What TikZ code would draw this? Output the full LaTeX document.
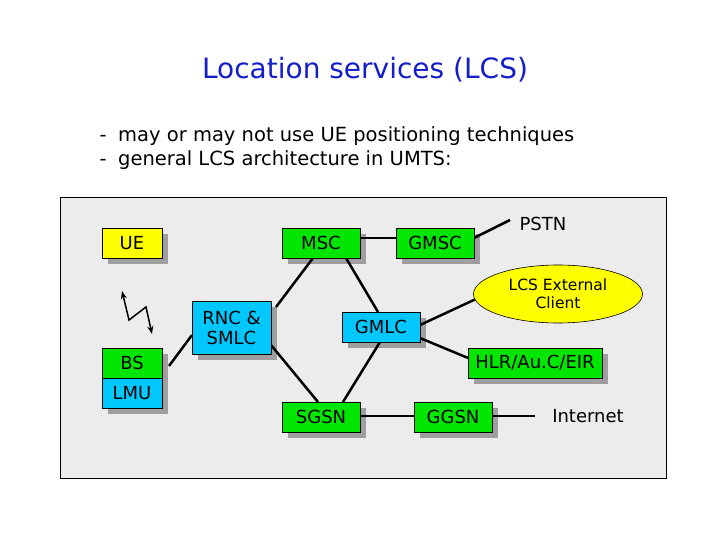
\documentclass[tikz,border=0pt]{standalone}
\usepackage{fontspec}
\setmainfont{DejaVu Sans}
\usetikzlibrary{shapes.geometric,arrows.meta}
\definecolor{bgray}{RGB}{236,236,236}
\definecolor{gbox}{RGB}{0,230,0}
\definecolor{cbox}{RGB}{0,200,255}
\definecolor{ybox}{RGB}{255,255,0}
\definecolor{ttl}{RGB}{20,30,200}
\begin{document}
\begin{tikzpicture}[x=1pt,y=-1pt,
  box/.style={draw=black,line width=0.6pt,minimum height=30pt,inner sep=1pt,font=\fontsize{18}{20}\selectfont,align=center},
  con/.style={line width=2.5pt}]
\useasboundingbox (0,0) rectangle (720,540);
\node[font=\fontsize{28}{32}\selectfont,text=ttl] (title) at (365,70) {Location services (LCS)};
\node[anchor=west,font=\fontsize{19.5}{22}\selectfont] (b1) at (96,136) {-\; may or may not use UE positioning techniques};
\node[anchor=west,font=\fontsize{19.5}{22}\selectfont] (b2) at (96,160) {-\; general LCS architecture in UMTS:};
\draw[fill=bgray,line width=0.6pt] (60,197) rectangle (666,478);
% shadows
\foreach \a/\b/\c/\d in {102/228/162/258, 282/228/360/258, 192/301/271/354, 102/348/162/408, 282/402/360/432, 342/312/420/342, 396/228/474/258, 468/348/602/378, 414/402/492/432}
  \fill[gray!75] (\a+6,\b+6) rectangle (\c+6,\d+6);
% connectors
\coordinate (pstn) at (510,220);
\coordinate (inet) at (535,416);
\draw[con] (169,366) -- (192,335);
\draw[con] (313,258) -- (276,307);
\draw[con] (346,258) -- (378,312);
\draw[con] (271,345) -- (318,402);
\draw[con] (380,342) -- (343,402);
\draw[con] (360,238) -- (396,238);
\draw[con] (420,325) -- (476,299);
\draw[con] (420,338) -- (468,358);
\draw[con] (360,416) -- (414,416);
\draw[con] (474,238) -- (pstn);
\draw[con] (492,416) -- (inet);
% boxes
\node[box,fill=ybox,minimum width=60pt] (ue) at (132,243) {UE};
\node[box,fill=gbox,minimum width=78pt] (msc) at (321,243) {MSC};
\node[box,fill=cbox,minimum width=79pt,minimum height=53pt] (rnc) at (231.5,327.5) {RNC \&\\SMLC};
\node[box,fill=gbox,minimum width=60pt] (bs) at (132,363) {BS};
\node[box,fill=cbox,minimum width=60pt] (lmu) at (132,393) {LMU};
\node[box,fill=gbox,minimum width=78pt] (sgsn) at (321,417) {SGSN};
\node[box,fill=cbox,minimum width=78pt] (gmlc) at (381,327) {GMLC};
\node[box,fill=gbox,minimum width=78pt] (gmsc) at (435,243) {GMSC};
\node[box,fill=gbox,minimum width=134pt] (hlr) at (535,363) {HLR/Au.C/EIR};
\node[box,fill=gbox,minimum width=78pt] (ggsn) at (453,417) {GGSN};
\node[ellipse,draw,fill=ybox,line width=0.6pt,minimum width=169pt,minimum height=58pt,inner sep=0pt,align=center,font=\fontsize{15.5}{18}\selectfont] (ext) at (558,294) {LCS External\\Client};
\node[font=\fontsize{18}{20}\selectfont] (pst) at (543,224) {PSTN};
\node[font=\fontsize{18}{20}\selectfont] (int) at (588,416) {Internet};
% radio link
\draw[line width=1.5pt,{Stealth[length=8pt]}-{Stealth[length=8pt]}] (122,291) -- (129,320) -- (146,307) -- (152,334);
\end{tikzpicture}
\end{document}
